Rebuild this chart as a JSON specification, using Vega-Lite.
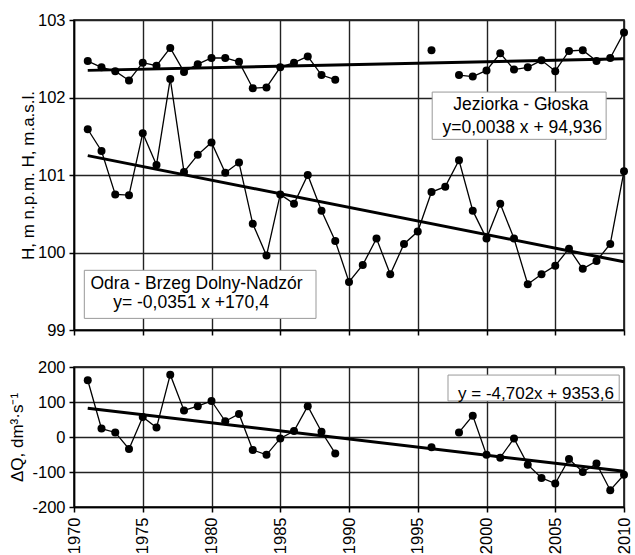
{
  "$schema": "https://vega.github.io/schema/vega-lite/v6.json",
  "background": "white",
  "padding": {"left": 8, "top": 11, "right": 5, "bottom": 0},
  "spacing": 18,
  "config": {
    "font": "Liberation Sans",
    "view": {"stroke": "#000", "strokeWidth": 1.5},
    "axis": {
      "labelFont": "Liberation Sans", "labelFontSize": 16.5, "labelColor": "#000",
      "titleFont": "Liberation Sans", "titleFontSize": 17, "titleFontWeight": "normal", "titleColor": "#000",
      "tickColor": "#000", "tickSize": 5, "tickWidth": 1.5,
      "domainColor": "#000", "domainWidth": 1.5,
      "gridColor": "#222", "gridWidth": 1.4, "gridOpacity": 1,
      "labelPadding": 4
    }
  },
  "datasets": {
    "h": [
      {"year": 1971, "v": 102.47, "g": "J1"}, {"year": 1972, "v": 102.39, "g": "J1"}, {"year": 1973, "v": 102.34, "g": "J1"},
      {"year": 1974, "v": 102.22, "g": "J1"}, {"year": 1975, "v": 102.45, "g": "J1"}, {"year": 1976, "v": 102.41, "g": "J1"},
      {"year": 1977, "v": 102.64, "g": "J1"}, {"year": 1978, "v": 102.33, "g": "J1"}, {"year": 1979, "v": 102.43, "g": "J1"},
      {"year": 1980, "v": 102.51, "g": "J1"}, {"year": 1981, "v": 102.51, "g": "J1"}, {"year": 1982, "v": 102.46, "g": "J1"},
      {"year": 1983, "v": 102.12, "g": "J1"}, {"year": 1984, "v": 102.13, "g": "J1"}, {"year": 1985, "v": 102.39, "g": "J1"},
      {"year": 1986, "v": 102.45, "g": "J1"}, {"year": 1987, "v": 102.53, "g": "J1"}, {"year": 1988, "v": 102.29, "g": "J1"},
      {"year": 1989, "v": 102.23, "g": "J1"},
      {"year": 1996, "v": 102.61, "g": "J2"},
      {"year": 1998, "v": 102.29, "g": "J3"}, {"year": 1999, "v": 102.27, "g": "J3"}, {"year": 2000, "v": 102.35, "g": "J3"},
      {"year": 2001, "v": 102.57, "g": "J3"}, {"year": 2002, "v": 102.36, "g": "J3"}, {"year": 2003, "v": 102.39, "g": "J3"},
      {"year": 2004, "v": 102.48, "g": "J3"}, {"year": 2005, "v": 102.34, "g": "J3"}, {"year": 2006, "v": 102.60, "g": "J3"},
      {"year": 2007, "v": 102.61, "g": "J3"}, {"year": 2008, "v": 102.47, "g": "J3"}, {"year": 2009, "v": 102.51, "g": "J3"},
      {"year": 2010, "v": 102.84, "g": "J3"},
      {"year": 1971, "v": 101.59, "g": "O"}, {"year": 1972, "v": 101.31, "g": "O"}, {"year": 1973, "v": 100.75, "g": "O"},
      {"year": 1974, "v": 100.74, "g": "O"}, {"year": 1975, "v": 101.54, "g": "O"}, {"year": 1976, "v": 101.13, "g": "O"},
      {"year": 1977, "v": 102.24, "g": "O"}, {"year": 1978, "v": 101.04, "g": "O"}, {"year": 1979, "v": 101.26, "g": "O"},
      {"year": 1980, "v": 101.42, "g": "O"}, {"year": 1981, "v": 101.03, "g": "O"}, {"year": 1982, "v": 101.16, "g": "O"},
      {"year": 1983, "v": 100.37, "g": "O"}, {"year": 1984, "v": 99.96, "g": "O"}, {"year": 1985, "v": 100.75, "g": "O"},
      {"year": 1986, "v": 100.63, "g": "O"}, {"year": 1987, "v": 101.00, "g": "O"}, {"year": 1988, "v": 100.54, "g": "O"},
      {"year": 1989, "v": 100.15, "g": "O"}, {"year": 1990, "v": 99.62, "g": "O"}, {"year": 1991, "v": 99.84, "g": "O"},
      {"year": 1992, "v": 100.18, "g": "O"}, {"year": 1993, "v": 99.72, "g": "O"}, {"year": 1994, "v": 100.11, "g": "O"},
      {"year": 1995, "v": 100.27, "g": "O"}, {"year": 1996, "v": 100.78, "g": "O"}, {"year": 1997, "v": 100.85, "g": "O"},
      {"year": 1998, "v": 101.19, "g": "O"}, {"year": 1999, "v": 100.54, "g": "O"}, {"year": 2000, "v": 100.18, "g": "O"},
      {"year": 2001, "v": 100.63, "g": "O"}, {"year": 2002, "v": 100.18, "g": "O"}, {"year": 2003, "v": 99.59, "g": "O"},
      {"year": 2004, "v": 99.72, "g": "O"}, {"year": 2005, "v": 99.83, "g": "O"}, {"year": 2006, "v": 100.05, "g": "O"},
      {"year": 2007, "v": 99.79, "g": "O"}, {"year": 2008, "v": 99.89, "g": "O"}, {"year": 2009, "v": 100.11, "g": "O"},
      {"year": 2010, "v": 101.05, "g": "O"}
    ],
    "htrend": [
      {"year": 1971, "v": 102.35, "g": "J"}, {"year": 2010, "v": 102.50, "g": "J"},
      {"year": 1971, "v": 101.25, "g": "O"}, {"year": 2010, "v": 99.88, "g": "O"}
    ],
    "q": [
      {"year": 1971, "v": 162, "g": "1"}, {"year": 1972, "v": 24, "g": "1"}, {"year": 1973, "v": 13, "g": "1"},
      {"year": 1974, "v": -34, "g": "1"}, {"year": 1975, "v": 57, "g": "1"}, {"year": 1976, "v": 27, "g": "1"},
      {"year": 1977, "v": 178, "g": "1"}, {"year": 1978, "v": 76, "g": "1"}, {"year": 1979, "v": 88, "g": "1"},
      {"year": 1980, "v": 103, "g": "1"}, {"year": 1981, "v": 45, "g": "1"}, {"year": 1982, "v": 66, "g": "1"},
      {"year": 1983, "v": -37, "g": "1"}, {"year": 1984, "v": -51, "g": "1"}, {"year": 1985, "v": -4, "g": "1"},
      {"year": 1986, "v": 17, "g": "1"}, {"year": 1987, "v": 88, "g": "1"}, {"year": 1988, "v": 15, "g": "1"},
      {"year": 1989, "v": -47, "g": "1"},
      {"year": 1996, "v": -29, "g": "2"},
      {"year": 1998, "v": 13, "g": "3"}, {"year": 1999, "v": 61, "g": "3"}, {"year": 2000, "v": -51, "g": "3"},
      {"year": 2001, "v": -59, "g": "3"}, {"year": 2002, "v": -4, "g": "3"}, {"year": 2003, "v": -79, "g": "3"},
      {"year": 2004, "v": -117, "g": "3"}, {"year": 2005, "v": -133, "g": "3"}, {"year": 2006, "v": -63, "g": "3"},
      {"year": 2007, "v": -100, "g": "3"}, {"year": 2008, "v": -76, "g": "3"}, {"year": 2009, "v": -152, "g": "3"},
      {"year": 2010, "v": -108, "g": "3"}
    ],
    "qtrend": [
      {"year": 1971, "v": 82}, {"year": 2010, "v": -98}
    ]
  },
  "vconcat": [
    {
      "width": 550,
      "height": 310,
      "layer": [
        {"data": {"name": "h"}, "mark": {"type": "line", "color": "#000", "strokeWidth": 1.3},
         "encoding": {
           "x": {"field": "year", "type": "quantitative", "scale": {"domain": [1970, 2010], "nice": false, "zero": false},
                 "axis": {"values": [1970, 1975, 1980, 1985, 1990, 1995, 2000, 2005, 2010], "labels": false, "title": null, "grid": true}},
           "y": {"field": "v", "type": "quantitative", "scale": {"domain": [99, 103], "nice": false, "zero": false},
                 "axis": {"values": [99, 100, 101, 102, 103], "format": "d", "title": "H, m n.p.m.  H, m.a.s.l.", "titlePadding": 0, "grid": true, "labelFlush": false}},
           "detail": {"field": "g"}}},
        {"data": {"name": "htrend"}, "mark": {"type": "line", "color": "#000", "strokeWidth": 3},
         "encoding": {
           "x": {"field": "year", "type": "quantitative", "scale": {"domain": [1970, 2010], "nice": false, "zero": false},
                 "axis": {"values": [1970, 1975, 1980, 1985, 1990, 1995, 2000, 2005, 2010], "labels": false, "title": null, "grid": true}},
           "y": {"field": "v", "type": "quantitative", "scale": {"domain": [99, 103], "nice": false, "zero": false},
                 "axis": {"values": [99, 100, 101, 102, 103], "format": "d", "title": "H, m n.p.m.  H, m.a.s.l.", "titlePadding": 0, "grid": true, "labelFlush": false}},
           "detail": {"field": "g"}}},
        {"data": {"name": "h"}, "mark": {"type": "point", "filled": true, "color": "#000", "opacity": 1, "size": 64},
         "encoding": {
           "x": {"field": "year", "type": "quantitative", "scale": {"domain": [1970, 2010], "nice": false, "zero": false},
                 "axis": {"values": [1970, 1975, 1980, 1985, 1990, 1995, 2000, 2005, 2010], "labels": false, "title": null, "grid": true}},
           "y": {"field": "v", "type": "quantitative", "scale": {"domain": [99, 103], "nice": false, "zero": false},
                 "axis": {"values": [99, 100, 101, 102, 103], "format": "d", "title": "H, m n.p.m.  H, m.a.s.l.", "titlePadding": 0, "grid": true, "labelFlush": false}}}},
        {"data": {"values": [{"box": "Jeziorka"}]}, "mark": {"type": "rect", "fill": "white", "stroke": "#999", "strokeWidth": 1},
         "encoding": {
           "x": {"datum": 1996.05, "type": "quantitative", "scale": {"domain": [1970, 2010], "nice": false, "zero": false},
                 "axis": {"values": [1970, 1975, 1980, 1985, 1990, 1995, 2000, 2005, 2010], "labels": false, "title": null, "grid": true}},
           "x2": {"datum": 2008.7},
           "y": {"datum": 102.07, "type": "quantitative", "scale": {"domain": [99, 103], "nice": false, "zero": false},
                 "axis": {"values": [99, 100, 101, 102, 103], "format": "d", "title": "H, m n.p.m.  H, m.a.s.l.", "titlePadding": 0, "grid": true, "labelFlush": false}},
           "y2": {"datum": 101.46}}},
        {"data": {"values": [{"box": "Odra"}]}, "mark": {"type": "rect", "fill": "white", "stroke": "#999", "strokeWidth": 1},
         "encoding": {
           "x": {"datum": 1970.75, "type": "quantitative", "scale": {"domain": [1970, 2010], "nice": false, "zero": false},
                 "axis": {"values": [1970, 1975, 1980, 1985, 1990, 1995, 2000, 2005, 2010], "labels": false, "title": null, "grid": true}},
           "x2": {"datum": 1987.6},
           "y": {"datum": 99.77, "type": "quantitative", "scale": {"domain": [99, 103], "nice": false, "zero": false},
                 "axis": {"values": [99, 100, 101, 102, 103], "format": "d", "title": "H, m n.p.m.  H, m.a.s.l.", "titlePadding": 0, "grid": true, "labelFlush": false}},
           "y2": {"datum": 99.15}}},
        {"data": {"values": [{"t": "Jeziorka - Głoska"}]}, "mark": {"type": "text", "fontSize": 17.5, "align": "center", "baseline": "middle", "color": "#000"},
         "encoding": {"text": {"field": "t"},
           "x": {"datum": 2002.5, "type": "quantitative", "scale": {"domain": [1970, 2010], "nice": false, "zero": false},
                 "axis": {"values": [1970, 1975, 1980, 1985, 1990, 1995, 2000, 2005, 2010], "labels": false, "title": null, "grid": true}},
           "y": {"datum": 101.9, "type": "quantitative", "scale": {"domain": [99, 103], "nice": false, "zero": false},
                 "axis": {"values": [99, 100, 101, 102, 103], "format": "d", "title": "H, m n.p.m.  H, m.a.s.l.", "titlePadding": 0, "grid": true, "labelFlush": false}}}},
        {"data": {"values": [{"t": "y=0,0038 x + 94,936"}]}, "mark": {"type": "text", "fontSize": 17.5, "align": "center", "baseline": "middle", "color": "#000"},
         "encoding": {"text": {"field": "t"},
           "x": {"datum": 2002.6, "type": "quantitative", "scale": {"domain": [1970, 2010], "nice": false, "zero": false},
                 "axis": {"values": [1970, 1975, 1980, 1985, 1990, 1995, 2000, 2005, 2010], "labels": false, "title": null, "grid": true}},
           "y": {"datum": 101.61, "type": "quantitative", "scale": {"domain": [99, 103], "nice": false, "zero": false},
                 "axis": {"values": [99, 100, 101, 102, 103], "format": "d", "title": "H, m n.p.m.  H, m.a.s.l.", "titlePadding": 0, "grid": true, "labelFlush": false}}}},
        {"data": {"values": [{"t": "Odra - Brzeg Dolny-Nadzór"}]}, "mark": {"type": "text", "fontSize": 17.5, "align": "left", "baseline": "middle", "color": "#000"},
         "encoding": {"text": {"field": "t"},
           "x": {"datum": 1971.2, "type": "quantitative", "scale": {"domain": [1970, 2010], "nice": false, "zero": false},
                 "axis": {"values": [1970, 1975, 1980, 1985, 1990, 1995, 2000, 2005, 2010], "labels": false, "title": null, "grid": true}},
           "y": {"datum": 99.59, "type": "quantitative", "scale": {"domain": [99, 103], "nice": false, "zero": false},
                 "axis": {"values": [99, 100, 101, 102, 103], "format": "d", "title": "H, m n.p.m.  H, m.a.s.l.", "titlePadding": 0, "grid": true, "labelFlush": false}}}},
        {"data": {"values": [{"t": "y= -0,0351 x +170,4"}]}, "mark": {"type": "text", "fontSize": 17.5, "align": "left", "baseline": "middle", "color": "#000"},
         "encoding": {"text": {"field": "t"},
           "x": {"datum": 1972.85, "type": "quantitative", "scale": {"domain": [1970, 2010], "nice": false, "zero": false},
                 "axis": {"values": [1970, 1975, 1980, 1985, 1990, 1995, 2000, 2005, 2010], "labels": false, "title": null, "grid": true}},
           "y": {"datum": 99.35, "type": "quantitative", "scale": {"domain": [99, 103], "nice": false, "zero": false},
                 "axis": {"values": [99, 100, 101, 102, 103], "format": "d", "title": "H, m n.p.m.  H, m.a.s.l.", "titlePadding": 0, "grid": true, "labelFlush": false}}}}
      ]
    },
    {
      "width": 550,
      "height": 140,
      "layer": [
        {"data": {"name": "q"}, "mark": {"type": "line", "color": "#000", "strokeWidth": 1.3},
         "encoding": {
           "x": {"field": "year", "type": "quantitative", "scale": {"domain": [1970, 2010], "nice": false, "zero": false},
                 "axis": {"values": [1970, 1975, 1980, 1985, 1990, 1995, 2000, 2005, 2010], "format": "d", "labelAngle": -90, "title": null, "grid": true, "labelFlush": false, "labelOverlap": false, "labelPadding": 5}},
           "y": {"field": "v", "type": "quantitative", "scale": {"domain": [-200, 200], "nice": false, "zero": false},
                 "axis": {"values": [-200, -100, 0, 100, 200], "labelExpr": "'' + datum.value", "title": "ΔQ, dm³·s⁻¹", "titlePadding": 5, "grid": true, "labelFlush": false}},
           "detail": {"field": "g"}}},
        {"data": {"name": "qtrend"}, "mark": {"type": "line", "color": "#000", "strokeWidth": 3},
         "encoding": {
           "x": {"field": "year", "type": "quantitative", "scale": {"domain": [1970, 2010], "nice": false, "zero": false},
                 "axis": {"values": [1970, 1975, 1980, 1985, 1990, 1995, 2000, 2005, 2010], "format": "d", "labelAngle": -90, "title": null, "grid": true, "labelFlush": false, "labelOverlap": false, "labelPadding": 5}},
           "y": {"field": "v", "type": "quantitative", "scale": {"domain": [-200, 200], "nice": false, "zero": false},
                 "axis": {"values": [-200, -100, 0, 100, 200], "labelExpr": "'' + datum.value", "title": "ΔQ, dm³·s⁻¹", "titlePadding": 5, "grid": true, "labelFlush": false}}}},
        {"data": {"name": "q"}, "mark": {"type": "point", "filled": true, "color": "#000", "opacity": 1, "size": 64},
         "encoding": {
           "x": {"field": "year", "type": "quantitative", "scale": {"domain": [1970, 2010], "nice": false, "zero": false},
                 "axis": {"values": [1970, 1975, 1980, 1985, 1990, 1995, 2000, 2005, 2010], "format": "d", "labelAngle": -90, "title": null, "grid": true, "labelFlush": false, "labelOverlap": false, "labelPadding": 5}},
           "y": {"field": "v", "type": "quantitative", "scale": {"domain": [-200, 200], "nice": false, "zero": false},
                 "axis": {"values": [-200, -100, 0, 100, 200], "labelExpr": "'' + datum.value", "title": "ΔQ, dm³·s⁻¹", "titlePadding": 5, "grid": true, "labelFlush": false}}}},
        {"data": {"values": [{"box": "Q"}]}, "mark": {"type": "rect", "fill": "white", "stroke": "#999", "strokeWidth": 1},
         "encoding": {
           "x": {"datum": 1997.2, "type": "quantitative", "scale": {"domain": [1970, 2010], "nice": false, "zero": false},
                 "axis": {"values": [1970, 1975, 1980, 1985, 1990, 1995, 2000, 2005, 2010], "format": "d", "labelAngle": -90, "title": null, "grid": true, "labelFlush": false, "labelOverlap": false, "labelPadding": 5}},
           "x2": {"datum": 2009.65},
           "y": {"datum": 177, "type": "quantitative", "scale": {"domain": [-200, 200], "nice": false, "zero": false},
                 "axis": {"values": [-200, -100, 0, 100, 200], "labelExpr": "'' + datum.value", "title": "ΔQ, dm³·s⁻¹", "titlePadding": 5, "grid": true, "labelFlush": false}},
           "y2": {"datum": 103}}},
        {"data": {"values": [{"t": "y = -4,702x + 9353,6"}]}, "mark": {"type": "text", "fontSize": 17, "align": "center", "baseline": "middle", "color": "#000"},
         "encoding": {"text": {"field": "t"},
           "x": {"datum": 2003.6, "type": "quantitative", "scale": {"domain": [1970, 2010], "nice": false, "zero": false},
                 "axis": {"values": [1970, 1975, 1980, 1985, 1990, 1995, 2000, 2005, 2010], "format": "d", "labelAngle": -90, "title": null, "grid": true, "labelFlush": false, "labelOverlap": false, "labelPadding": 5}},
           "y": {"datum": 123, "type": "quantitative", "scale": {"domain": [-200, 200], "nice": false, "zero": false},
                 "axis": {"values": [-200, -100, 0, 100, 200], "labelExpr": "'' + datum.value", "title": "ΔQ, dm³·s⁻¹", "titlePadding": 5, "grid": true, "labelFlush": false}}}}
      ]
    }
  ]
}
